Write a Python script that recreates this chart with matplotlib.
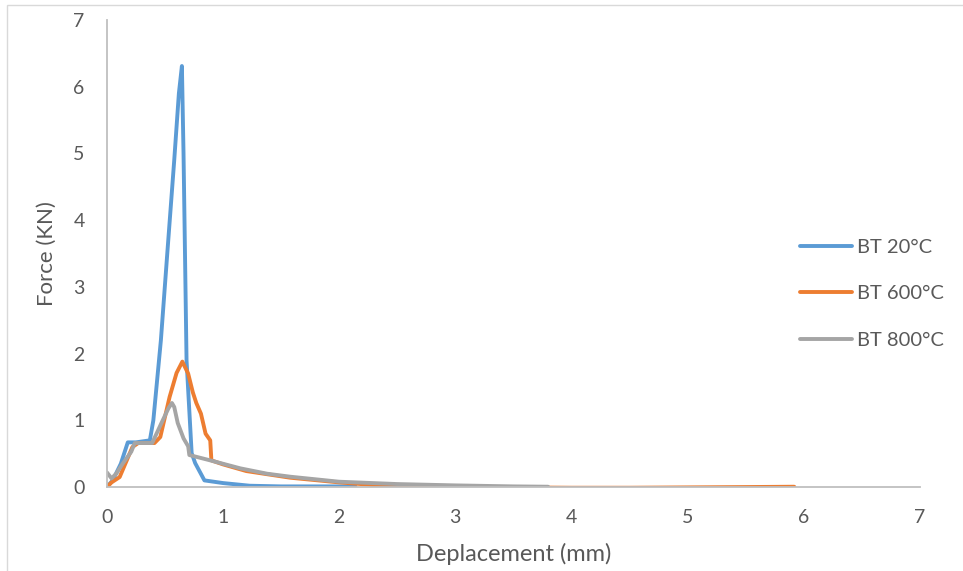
import matplotlib.pyplot as plt
from matplotlib.patches import Rectangle

plt.rcParams['font.family'] = ['Lato', 'DejaVu Sans']

# Force-displacement curves
x_20 = [0.0, 0.05, 0.12, 0.18, 0.25, 0.37, 0.40, 0.465, 0.52, 0.58, 0.62, 0.646,
        0.66, 0.686, 0.73, 0.76, 0.84, 1.0, 1.23, 1.5, 1.8, 2.14]
f_20 = [0.0, 0.1, 0.35, 0.67, 0.67, 0.7, 1.0, 2.2, 3.5, 4.9, 5.9, 6.31,
        5.0, 1.9, 0.51, 0.36, 0.1, 0.06, 0.02, 0.01, 0.01, 0.01]

x_600 = [0.0, 0.04, 0.11, 0.22, 0.27, 0.41, 0.46, 0.54, 0.60, 0.65, 0.70, 0.74,
         0.77, 0.81, 0.85, 0.89, 0.90, 1.0, 1.2, 1.58, 2.0, 2.3, 2.6, 3.0, 3.5,
         4.0, 4.5, 5.0, 5.5, 5.92]
f_600 = [0.0, 0.07, 0.15, 0.6, 0.66, 0.66, 0.75, 1.35, 1.71, 1.88, 1.7, 1.42,
         1.26, 1.1, 0.8, 0.7, 0.4, 0.34, 0.24, 0.14, 0.07, 0.03, 0.0, -0.005,
         -0.005, -0.01, -0.01, -0.005, 0.0, 0.005]

x_800 = [0.0, 0.04, 0.08, 0.14, 0.21, 0.24, 0.39, 0.47, 0.53, 0.56, 0.58, 0.61,
         0.66, 0.70, 0.71, 0.89, 1.15, 1.38, 1.58, 2.0, 2.5, 3.0, 3.5, 3.8]
f_800 = [0.22, 0.13, 0.2, 0.36, 0.53, 0.66, 0.66, 0.96, 1.18, 1.26, 1.2, 0.96,
         0.73, 0.61, 0.48, 0.40, 0.28, 0.2, 0.155, 0.08, 0.045, 0.025, 0.01, 0.005]

labels = ['BT 20°C', 'BT 600°C', 'BT 800°C']
colors = ['#5B9BD5', '#ED7D31', '#A5A5A5']

fig = plt.figure(figsize=(9.63, 5.71), dpi=100)
ax = fig.add_axes([0.111, 0.147, 0.844, 0.818])

for xs, fs, lab, c in zip([x_20, x_600, x_800], [f_20, f_600, f_800], labels, colors):
    ax.plot(xs, fs, color=c, lw=2.8, label=lab, solid_capstyle='round')

ax.set_xlim(0, 7)
ax.set_ylim(0, 7)
ax.set_xticks(range(8))
ax.set_yticks(range(8))
ax.tick_params(length=0, labelsize=14, labelcolor='#595959', pad=16)
for side in ['top', 'right']:
    ax.spines[side].set_visible(False)
for side in ['left', 'bottom']:
    ax.spines[side].set_color('#BFBFBF')
    ax.spines[side].set_linewidth(1.3)

ax.set_xlabel('Deplacement (mm)', fontsize=17, color='#595959', labelpad=12)
ax.set_ylabel('Force (KN)', fontsize=16, color='#595959', labelpad=12)

leg = ax.legend(loc='upper left', bbox_to_anchor=(0.83, 0.57), frameon=False,
                fontsize=14.5, handlelength=2.6, labelspacing=1.45, handletextpad=0.25)
for t in leg.get_texts():
    t.set_color('#595959')

# chart border
fig.patches.append(Rectangle((0.007, -0.1), 1.1, 1.091, transform=fig.transFigure,
                             fill=False, edgecolor='#D9D9D9', lw=1))

fig.savefig('out.png', dpi=100)
